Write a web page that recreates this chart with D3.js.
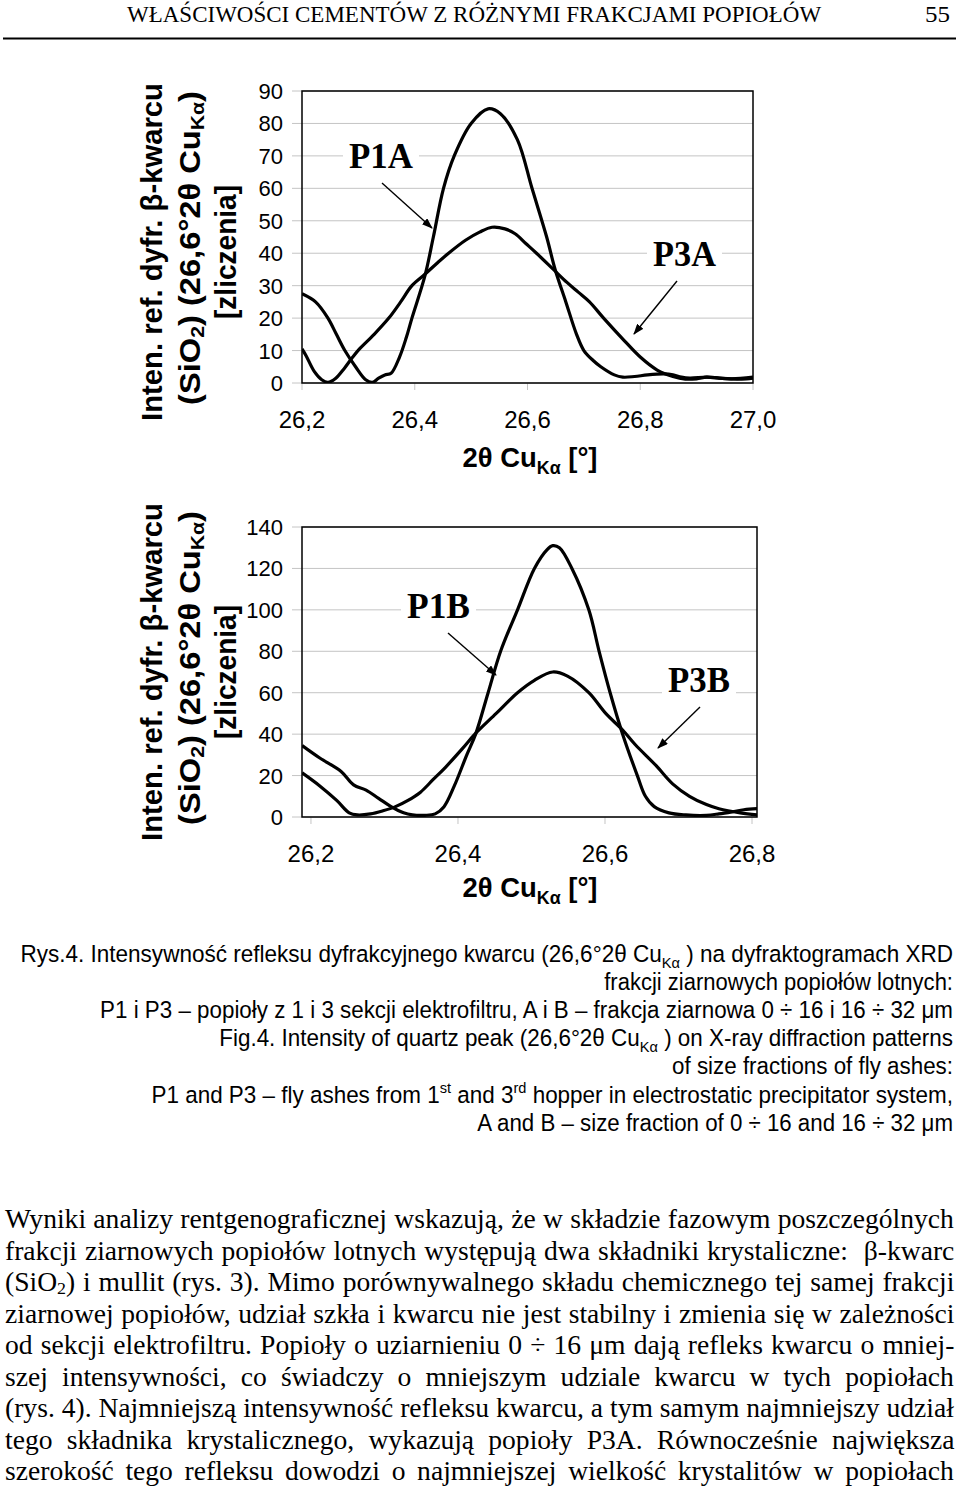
<!DOCTYPE html>
<html><head><meta charset="utf-8">
<script src="https://cdn.jsdelivr.net/npm/d3@7"></script>
<style>body{margin:0;background:#fff}svg{display:block}</style>
</head><body>
<svg id="c" width="960" height="1491"></svg>
<script>
// ---------- DATA ----------
const topXTicks = [26.2, 26.4, 26.6, 26.8, 27.0];
const topYTicks = [0, 10, 20, 30, 40, 50, 60, 70, 80, 90];
const botXTicks = [26.2, 26.4, 26.6, 26.8];
const botYTicks = [0, 20, 40, 60, 80, 100, 120, 140];

const p1aX = [26.2, 26.224, 26.246, 26.261, 26.276, 26.295, 26.313, 26.325, 26.336, 26.347, 26.358, 26.373, 26.385, 26.395, 26.418, 26.433, 26.451, 26.47, 26.50, 26.53, 26.552, 26.582, 26.608, 26.634, 26.649, 26.668, 26.687, 26.70, 26.716, 26.73, 26.754, 26.769, 26.79, 26.813, 26.843, 26.858, 26.873, 26.888, 26.918, 26.94, 26.963, 27.0];
const p1aY = [27.5, 25, 20, 15, 10, 5, 1, 0.2, 1.5, 2.5, 3, 8, 14, 20, 33, 45, 60, 70, 80, 84.5, 83, 75, 60, 45, 35, 25, 15, 10, 7, 5, 2.5, 1.8, 2.0, 2.5, 2.8, 2.5, 1.8, 1.5, 1.8, 1.5, 1.3, 1.8];

const p3aX = [26.2, 26.207, 26.222, 26.235, 26.246, 26.26, 26.275, 26.29, 26.302, 26.328, 26.354, 26.375, 26.395, 26.418, 26.44, 26.46, 26.49, 26.515, 26.537, 26.56, 26.578, 26.597, 26.616, 26.646, 26.67, 26.69, 26.71, 26.735, 26.772, 26.80, 26.83, 26.858, 26.88, 26.9, 26.918, 26.94, 26.96, 26.98, 27.0];
const p3aY = [10.5, 8.5, 3.5, 1, 0.2, 1.5, 4.5, 8, 10.5, 15, 20, 25, 30, 33.5, 37, 40, 44, 46.5, 48, 47.5, 46, 43, 40, 35, 31, 28, 25, 20, 13, 8, 4, 2, 1.2, 1.3, 1.8, 1.5, 1.3, 1.2, 1.5];

const p1bX = [26.188, 26.212, 26.241, 26.258, 26.275, 26.292, 26.309, 26.326, 26.338, 26.355, 26.369, 26.381, 26.395, 26.412, 26.424, 26.441, 26.458, 26.481, 26.504, 26.521, 26.529, 26.538, 26.555, 26.578, 26.592, 26.607, 26.624, 26.644, 26.655, 26.667, 26.687, 26.71, 26.738, 26.755, 26.773, 26.789, 26.807];
const p1bY = [34.5, 28.5, 22, 15.5, 13, 9, 5, 2, 1, 0.8, 1.5, 5, 15, 30, 40, 60, 80, 100, 120, 129, 131, 130, 120, 100, 80, 60, 40, 20, 10, 5, 2, 1, 0.8, 1.5, 2.5, 3.5, 4];

const p3bX = [26.188, 26.212, 26.235, 26.252, 26.263, 26.281, 26.298, 26.315, 26.332, 26.349, 26.366, 26.383, 26.406, 26.423, 26.452, 26.481, 26.504, 26.529, 26.549, 26.578, 26.601, 26.624, 26.641, 26.669, 26.692, 26.715, 26.738, 26.755, 26.784, 26.807];
const p3bY = [21.3, 15, 8, 2, 1, 1.5, 3, 5, 8, 12, 18, 24, 33, 40, 50, 60, 66, 70, 68, 60, 50, 42, 35, 25, 16, 10, 6, 4, 2, 1];

const headerTitle = "WŁAŚCIWOŚCI CEMENTÓW Z RÓŻNYMI FRAKCJAMI POPIOŁÓW";
const pageNumber = "55";
const yTitle1 = "Inten. ref. dyfr. β-kwarcu";
const xTitleParts = ["2θ Cu", {t: "Kα", sub: true}, " [°]"];
const yTitle2Parts = ["(SiO", {t: "2", sub: true}, ") (26,6°2θ Cu", {t: "Kα", sub: true}, ")"];
const yTitle3 = "[zliczenia]";

const captionLines = [
  ["Rys.4. Intensywność refleksu dyfrakcyjnego kwarcu (26,6°2θ Cu", {t: "Kα", sub: true}, " ) na dyfraktogramach XRD"],
  ["frakcji ziarnowych popiołów lotnych:"],
  ["P1 i P3 – popioły z 1 i 3 sekcji elektrofiltru, A i B – frakcja ziarnowa 0 ÷ 16 i 16 ÷ 32 μm"],
  ["Fig.4. Intensity of quartz peak (26,6°2θ Cu", {t: "Kα", sub: true}, " ) on X-ray diffraction patterns"],
  ["of size fractions of fly ashes:"],
  ["P1 and P3 – fly ashes from 1", {t: "st", sup: true}, " and 3", {t: "rd", sup: true}, " hopper in electrostatic precipitator system,"],
  ["A and B – size fraction of 0 ÷ 16 and 16 ÷ 32 μm"]
];
const captionLeft = [20, 604, 100, 219, 672, 151, 477];

const bodyLines = [
  ["Wyniki analizy rentgenograficznej wskazują, że w składzie fazowym poszczególnych"],
  ["frakcji ziarnowych popiołów lotnych występują dwa składniki krystaliczne:  β-kwarc"],
  ["(SiO", {t: "2", sub: true}, ") i mullit (rys. 3). Mimo porównywalnego składu chemicznego tej samej frakcji"],
  ["ziarnowej popiołów, udział szkła i kwarcu nie jest stabilny i zmienia się w zależności"],
  ["od sekcji elektrofiltru. Popioły o uziarnieniu 0 ÷ 16 μm dają refleks kwarcu o mniej-"],
  ["szej intensywności, co świadczy o mniejszym udziale kwarcu w tych popiołach"],
  ["(rys. 4). Najmniejszą intensywność refleksu kwarcu, a tym samym najmniejszy udział"],
  ["tego składnika krystalicznego, wykazują popioły P3A. Równocześnie największa"],
  ["szerokość tego refleksu dowodzi o najmniejszej wielkość krystalitów w popiołach"]
];

// ---------- HELPERS ----------
const svg = d3.select("#c");
const SANS = "Liberation Sans, Arial, sans-serif";
const SERIF = "Liberation Serif, Times New Roman, serif";

function richText(g, parts, size, family, weight, subShift) {
  const t = g.append("text").attr("font-family", family).attr("font-size", size)
    .attr("font-weight", weight || "normal").style("white-space", "pre").attr("fill", "#000");
  let shift = 0;
  const ss = subShift == null ? 0.25 : subShift;
  parts.forEach(p => {
    const s = typeof p === "string" ? {t: p} : p;
    const target = s.sub ? size * ss : s.sup ? -size * 0.4 : 0;
    const ts = t.append("tspan").text(s.t).attr("dy", target - shift);
    if (s.sub || s.sup) ts.attr("font-size", size * 0.65);
    shift = target;
  });
  return t;
}
function place(x, y, parts, o) {
  const g = svg.append("g").attr("transform", `translate(${x},${y})` + (o.rot ? " rotate(-90)" : ""));
  const t = richText(g, typeof parts === "string" ? [parts] : parts, o.size, o.family, o.weight);
  t.attr("text-anchor", o.anchor || "start");
  if (o.baseline) t.attr("dominant-baseline", o.baseline);
  if (o.width) {
    const w = t.node().getBBox().width;
    t.attr("transform", `scale(${o.width / w},1)`);
  }
  return t;
}
const fmt = v => d3.format(".1f")(v).replace(".", ",");

// ---------- HEADER ----------
place(127, 22, headerTitle, {size: 22.5, family: SERIF, width: 695});
place(925, 22, pageNumber, {size: 22.5, family: SERIF, width: 25});
svg.append("line").attr("x1", 3).attr("x2", 956).attr("y1", 38.5).attr("y2", 38.5)
  .attr("stroke", "#000").attr("stroke-width", 2);

svg.append("defs").append("marker").attr("id", "ah").attr("markerUnits", "userSpaceOnUse")
  .attr("markerWidth", 11).attr("markerHeight", 8).attr("refX", 10).attr("refY", 4)
  .attr("orient", "auto").append("path").attr("d", "M0,0 L11,4 L0,8 Z").attr("fill", "#000");

// ---------- CHART ----------
let clipN = 0;
function chart(cfg) {
  const x = d3.scaleLinear().domain(cfg.xDomain).range([302, cfg.right]);
  const y = d3.scaleLinear().domain(cfg.yDomain).range([cfg.bottom, cfg.top]);
  const g = svg.append("g");
  g.selectAll("line.grid").data(cfg.yTicks).join("line")
    .attr("x1", 292).attr("x2", cfg.right).attr("y1", d => y(d)).attr("y2", d => y(d))
    .attr("stroke", "#c4c4c4").attr("stroke-width", 1);
  cfg.yTicks.forEach(v => place(283, y(v), String(v), {size: 22, family: SANS, anchor: "end", baseline: "central"}));
  g.selectAll("line.xt").data(cfg.xTicks).join("line")
    .attr("x1", d => x(d)).attr("x2", d => x(d)).attr("y1", cfg.bottom).attr("y2", cfg.bottom + 7)
    .attr("stroke", "#c4c4c4").attr("stroke-width", 1);
  cfg.xTicks.forEach(v => place(x(v), cfg.bottom + 45, fmt(v), {size: 24, family: SANS, anchor: "middle"}));
  const id = "clip" + (clipN++);
  svg.append("clipPath").attr("id", id).append("rect")
    .attr("x", 302).attr("y", cfg.top).attr("width", cfg.right - 302).attr("height", cfg.bottom - cfg.top);
  const line = d3.line().x(d => x(d[0])).y(d => y(d[1])).curve(d3.curveCatmullRom.alpha(0.5));
  cfg.series.forEach(s => {
    g.append("path").attr("clip-path", `url(#${id})`).datum(s.xs.map((v, i) => [v, s.ys[i]]))
      .attr("d", line).attr("fill", "none").attr("stroke", "#000").attr("stroke-width", 3.2)
      .attr("stroke-linejoin", "round");
  });
  g.append("rect").attr("x", 302).attr("y", cfg.top).attr("width", cfg.right - 302)
    .attr("height", cfg.bottom - cfg.top).attr("fill", "none").attr("stroke", "#000").attr("stroke-width", 1.5);
  cfg.labels.forEach(l => {
    const t = place(l.x, l.y, l.text, {size: 36, family: SERIF, weight: "bold", width: l.w});
    svg.insert("rect", () => t.node().parentNode).attr("x", l.x - 6).attr("y", l.y - 28)
      .attr("width", l.w + 12).attr("height", 34).attr("fill", "#fff");
    svg.append("line").attr("x1", l.ax1).attr("y1", l.ay1).attr("x2", l.ax2).attr("y2", l.ay2)
      .attr("stroke", "#000").attr("stroke-width", 1.4).attr("marker-end", "url(#ah)");
  });
  place(530, cfg.xTitleY, xTitleParts, {size: 27, family: SANS, weight: "bold", anchor: "middle", width: 135});
  place(152, cfg.yTitleC, yTitle1, {size: 29, family: SANS, weight: "bold", anchor: "middle", baseline: "central", rot: true, width: 338});
  place(190, cfg.yTitleC - 4, yTitle2Parts, {size: 29, family: SANS, weight: "bold", anchor: "middle", baseline: "central", rot: true, width: 314});
  place(226, cfg.yTitleC, yTitle3, {size: 29, family: SANS, weight: "bold", anchor: "middle", baseline: "central", rot: true, width: 134});
}

chart({
  xDomain: [26.2, 27.0], yDomain: [0, 90], right: 753, top: 91, bottom: 383,
  xTicks: topXTicks, yTicks: topYTicks, xTitleY: 467, yTitleC: 252,
  series: [{xs: p1aX, ys: p1aY}, {xs: p3aX, ys: p3aY}],
  labels: [
    {text: "P1A", x: 349, y: 168, w: 64, ax1: 382, ay1: 183, ax2: 432, ay2: 228},
    {text: "P3A", x: 653, y: 266, w: 63, ax1: 677, ay1: 281, ax2: 634, ay2: 334}
  ]
});
chart({
  xDomain: [26.1878, 26.8068], yDomain: [0, 140], right: 757, top: 527, bottom: 817,
  xTicks: botXTicks, yTicks: botYTicks, xTitleY: 897, yTitleC: 672,
  series: [{xs: p1bX, ys: p1bY}, {xs: p3bX, ys: p3bY}],
  labels: [
    {text: "P1B", x: 407, y: 618, w: 63, ax1: 448, ay1: 633, ax2: 496, ay2: 675},
    {text: "P3B", x: 668, y: 692, w: 62, ax1: 700, ay1: 707, ax2: 658, ay2: 748}
  ]
});

// ---------- CAPTION ----------
captionLines.forEach((parts, i) => {
  place(953, 962 + i * 28.1, parts, {size: 23.5, family: SANS, anchor: "end", width: 953 - captionLeft[i]});
});

// ---------- BODY (justified) ----------
const bodyTexts = bodyLines.map((parts, i) => {
  const g = svg.append("g").attr("transform", `translate(5,${1228 + i * 31.5})`);
  const t = richText(g, parts, 27, SERIF, "normal", 0.12);
  const str = parts.map(p => typeof p === "string" ? p : p.t).join("");
  return {t, n: (str.match(/ /g) || []).length, w0: t.node().getBBox().width};
});
const T = 950;
const c = d3.min(bodyTexts, d => T / d.w0);
bodyTexts.forEach(d => {
  const ws = (T / c - d.w0) / d.n;
  d.t.attr("word-spacing", ws);
  const w1 = d.t.node().getBBox().width;
  d.t.attr("transform", `scale(${T / w1},1)`);
});
</script>
</body></html>
